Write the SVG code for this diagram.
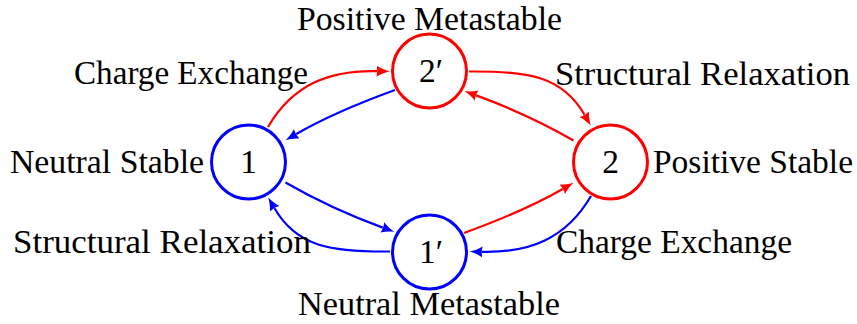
<svg xmlns="http://www.w3.org/2000/svg" width="857" height="324" viewBox="0 0 857 324">
<style>
.lbl{font-family:"Liberation Serif","DejaVu Serif",serif;font-size:33.5px;fill:#000}
.num{font-family:"Liberation Serif","DejaVu Serif",serif;font-size:33.5px;fill:#000;text-anchor:middle}
.red{stroke:#ff0000}
.blue{stroke:#0000ff}
.node{fill:#fff;stroke-width:3}
.edge{fill:none;stroke-width:2.2}
</style>
<defs>
<marker id="arrR" viewBox="0 -6 14 12" markerWidth="14" markerHeight="12" markerUnits="userSpaceOnUse" refX="0.5" refY="0" orient="auto">
<path d="M13,0 C9,1 4,2.8 0,5.5 C1,2 1,-2 0,-5.5 C4,-2.8 9,-1 13,0 Z" fill="#ff0000"/>
</marker>
<marker id="arrB" viewBox="0 -6 14 12" markerWidth="14" markerHeight="12" markerUnits="userSpaceOnUse" refX="0.5" refY="0" orient="auto">
<path d="M13,0 C9,1 4,2.8 0,5.5 C1,2 1,-2 0,-5.5 C4,-2.8 9,-1 13,0 Z" fill="#0000ff"/>
</marker>
</defs>
<g id="connectors">
<path class="edge red" d="M268,127 C293,84 330,70 377,71.1" marker-end="url(#arrR)"/>
<path class="edge red" d="M469,71.5 C527,71 562,75.7 584.5,114.7" marker-end="url(#arrR)"/>
<path class="edge blue" d="M591,196 C566,239 529,253 482,251.9" marker-end="url(#arrB)"/>
<path class="edge blue" d="M390,251.5 C332,252 297,247.3 274.5,208.3" marker-end="url(#arrB)"/>
<path class="edge blue" d="M395,90 C362,102 326.6,116.5 296.3,134" marker-end="url(#arrB)"/>
<path class="edge red" d="M464,233 C497,221 532.4,206.5 562.7,189" marker-end="url(#arrR)"/>
<path class="edge blue" d="M285.5,182.5 C315.8,200 349.9,215.6 382.8,227.6" marker-end="url(#arrB)"/>
<path class="edge red" d="M573.5,140.5 C543.2,123 509.1,107.4 476.2,95.4" marker-end="url(#arrR)"/>
</g>
<g id="node1">
<circle class="node blue" cx="248.5" cy="162" r="37"/>
<text class="num" x="248.5" y="173">1</text>
</g>
<g id="node2p">
<circle class="node red" cx="429.5" cy="71" r="37"/>
<text class="num" x="431" y="82">2′</text>
</g>
<g id="node2">
<circle class="node red" cx="610.5" cy="162" r="37"/>
<text class="num" x="610.5" y="173">2</text>
</g>
<g id="node1p">
<circle class="node blue" cx="429.5" cy="252" r="37"/>
<text class="num" x="431" y="263">1′</text>
</g>
<g id="labels">
<text class="lbl" x="297" y="30" textLength="265" lengthAdjust="spacingAndGlyphs">Positive Metastable</text>
<text class="lbl" x="74" y="84" textLength="234" lengthAdjust="spacingAndGlyphs">Charge Exchange</text>
<text class="lbl" x="555" y="84.5" textLength="295" lengthAdjust="spacingAndGlyphs">Structural Relaxation</text>
<text class="lbl" x="10" y="173" textLength="194" lengthAdjust="spacingAndGlyphs">Neutral Stable</text>
<text class="lbl" x="653" y="172.5" textLength="200" lengthAdjust="spacingAndGlyphs">Positive Stable</text>
<text class="lbl" x="13" y="252.5" textLength="298" lengthAdjust="spacingAndGlyphs">Structural Relaxation</text>
<text class="lbl" x="556" y="253" textLength="236" lengthAdjust="spacingAndGlyphs">Charge Exchange</text>
<text class="lbl" x="298" y="315" textLength="262" lengthAdjust="spacingAndGlyphs">Neutral Metastable</text>
</g>
</svg>
